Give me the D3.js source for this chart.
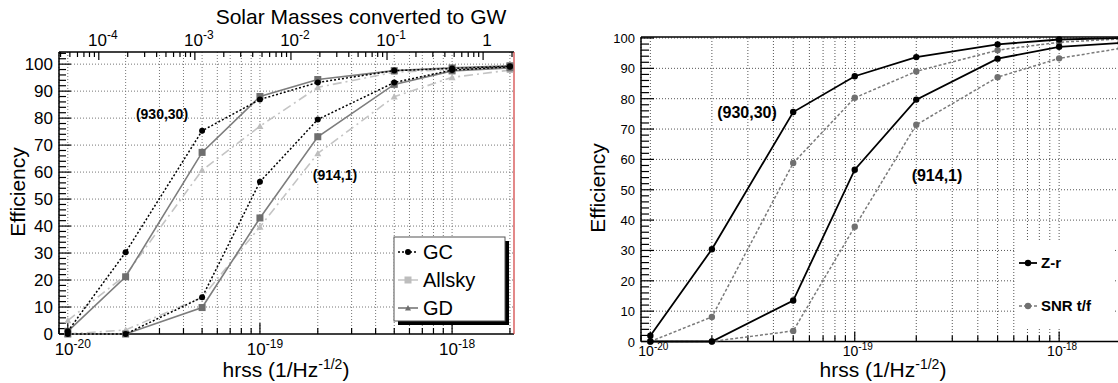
<!DOCTYPE html>
<html>
<head>
<meta charset="utf-8">
<script src="https://d3js.org/d3.v7.min.js"></script>
<style>
  body { margin: 0; background: white; }
  svg { display: block; font-family: "Liberation Sans", Arial, sans-serif; }
  .grid { stroke: #777; stroke-dasharray: 1,2; fill: none; }
  .gridR { stroke: #555; stroke-dasharray: 1,2; fill: none; }
  .axis { stroke: black; stroke-width: 1.5; fill: none; }
  .note { font-weight: bold; }
</style>
</head>
<body>
<svg id="chart" width="1118" height="383"></svg>
<script>
// hrss values of the injections
const hrss = [1e-20, 2e-20, 5e-20, 1e-19, 2e-19, 5e-19, 1e-18, 2e-18];

// left panel: (930,30) curves then (914,1) curves
const gc930 = [1, 30.3, 75.3, 86.9, 93.2, 97.6, 98.4, 99.2];
const gc914 = [0, 0, 13.6, 56.4, 79.5, 93.2, 97.8, 99.0];
const allsky930 = [1, 21.2, 67.3, 88, 94.3, 97.6, 98.6, 99.4];
const allsky914 = [0, 0, 9.8, 43, 73.1, 92.5, 97.5, 98.6];
const gd930 = [5, 21.8, 60.7, 77, 91.4, 97, 98, 98.7];
const gd914 = [0, 1.5, 13.6, 39.7, 66.9, 87.9, 95.1, 97.8];

// right panel
const zr930 = [1.9, 30.4, 75.6, 87.4, 93.7, 97.9, 99.5, 100];
const zr914 = [0, 0, 13.5, 56.6, 79.7, 93.2, 97.1, 98.4];
const snr930 = [0, 8.1, 58.8, 80.3, 89, 96, 98.6, 99.7];
const snr914 = [0, 0, 3.5, 37.8, 71.4, 87.1, 93.3, 96.6];

const yMajor = [0, 10, 20, 30, 40, 50, 60, 70, 80, 90, 100];
const hOneSolarMass = 1.45e-18; // hrss where 1 solar mass goes to GW

const svg = d3.select("#chart");

function isDecade(v) {
  const l = Math.log10(v);
  return Math.abs(l - Math.round(l)) < 1e-6;
}

// "10^-n" style label
function powLabel(sel, v, x, y, size, supSize) {
  const t = sel.append("text").attr("x", x).attr("y", y)
      .attr("text-anchor", "middle").attr("font-size", size);
  const e = Math.round(Math.log10(v));
  if (e === 0) { t.text("1"); return; }
  t.append("tspan").text("10");
  t.append("tspan").attr("dy", -size * 0.42).attr("font-size", supSize).text(e);
}

function series(g, x, y, vals, o) {
  const line = d3.line().x((d, i) => x(hrss[i])).y(d => y(d));
  g.append("path").datum(vals).attr("d", line)
      .attr("fill", "none").attr("stroke", o.stroke)
      .attr("stroke-width", o.width).attr("stroke-dasharray", o.dash);
  marker(g, vals.map((d, i) => [x(hrss[i]), y(d)]), o);
}

function marker(g, pts, o) {
  pts.forEach(p => {
    if (o.shape === "circle") {
      g.append("circle").attr("cx", p[0]).attr("cy", p[1]).attr("r", o.size).attr("fill", o.fill);
    } else if (o.shape === "square") {
      g.append("rect").attr("x", p[0] - o.size).attr("y", p[1] - o.size)
          .attr("width", o.size * 2).attr("height", o.size * 2).attr("fill", o.fill);
    } else {
      const s = o.size;
      g.append("path").attr("d", `M${p[0]},${p[1] - s}L${p[0] + s},${p[1] + s * 0.8}L${p[0] - s},${p[1] + s * 0.8}Z`)
          .attr("fill", o.fill);
    }
  });
}

// ---------------- left panel ----------------
const xL = d3.scaleLog().domain([0.9e-20, 2.1e-18]).range([59, 514]);
const yL = d3.scaleLinear().domain([0, 104.5]).range([334, 52]);
const topL = d3.scaleLog()
    .domain([Math.pow(0.9e-20 / hOneSolarMass, 2), Math.pow(2.1e-18 / hOneSolarMass, 2)])
    .range([59, 514]);

const left = svg.append("g");

xL.ticks().forEach(v => {
  left.append("line").attr("class", "grid")
      .attr("x1", xL(v)).attr("x2", xL(v)).attr("y1", 52).attr("y2", 334);
});
yMajor.slice(1).forEach(v => {
  left.append("line").attr("class", "grid")
      .attr("x1", 59).attr("x2", 514).attr("y1", yL(v)).attr("y2", yL(v));
});

// frame
left.append("line").attr("class", "axis").attr("x1", 59).attr("x2", 59).attr("y1", 52).attr("y2", 334);
left.append("line").attr("class", "axis").attr("x1", 59).attr("x2", 514).attr("y1", 334).attr("y2", 334);
left.append("line").attr("class", "axis").attr("x1", 59).attr("x2", 514).attr("y1", 52).attr("y2", 52);
left.append("line").attr("x1", 514).attr("x2", 514).attr("y1", 52).attr("y2", 334)
    .attr("stroke", "#d03a3a").attr("stroke-width", 1.2);

// y ticks
for (let v = 0; v <= 104; v += 2) {
  const big = v % 10 === 0;
  left.append("line").attr("stroke", "black").attr("stroke-width", 1.2)
      .attr("x1", 59).attr("x2", 59 + (big ? 12 : 7)).attr("y1", yL(v)).attr("y2", yL(v));
}
yMajor.forEach(v => {
  left.append("text").attr("x", 53).attr("y", yL(v) + 6).attr("text-anchor", "end")
      .attr("font-size", 17).text(v);
});

// bottom ticks
xL.ticks().forEach(v => {
  const big = isDecade(v);
  left.append("line").attr("stroke", "black").attr("stroke-width", 1.2)
      .attr("x1", xL(v)).attr("x2", xL(v)).attr("y1", 334).attr("y2", 334 - (big ? 11 : 6));
  if (big) powLabel(left, v, xL(v) + 5, 355, 17, 12);
});

// top axis (solar masses)
topL.ticks().forEach(v => {
  const big = isDecade(v);
  left.append("line").attr("stroke", "black").attr("stroke-width", 1.2)
      .attr("x1", topL(v)).attr("x2", topL(v)).attr("y1", 52).attr("y2", 52 + (big ? 8 : 5));
  if (big) powLabel(left, v, topL(v) + 4, 46, 17, 12);
});

left.append("text").attr("x", 361).attr("y", 24).attr("text-anchor", "middle")
    .attr("font-size", 21).text("Solar Masses converted to GW");
left.append("text").attr("transform", "translate(25,192) rotate(-90)")
    .attr("text-anchor", "middle").attr("font-size", 21).text("Efficiency");
const xtL = left.append("text").attr("x", 286).attr("y", 377).attr("text-anchor", "middle").attr("font-size", 21);
xtL.append("tspan").text("hrss (1/Hz");
xtL.append("tspan").attr("dy", -8).attr("font-size", 14).text("-1/2");
xtL.append("tspan").attr("dy", 8).text(")");

const gdStyle = { stroke: "#c4c4c4", width: 1.6, dash: "9,4,2,4", shape: "tri", size: 3.5, fill: "#bdbdbd" };
const allStyle = { stroke: "#7d7d7d", width: 1.6, dash: null, shape: "square", size: 3.5, fill: "#6e6e6e" };
const gcStyle = { stroke: "black", width: 1.5, dash: "2,2", shape: "circle", size: 3, fill: "black" };

series(left, xL, yL, gd930, gdStyle);
series(left, xL, yL, gd914, gdStyle);
series(left, xL, yL, allsky930, allStyle);
series(left, xL, yL, allsky914, allStyle);
series(left, xL, yL, gc930, gcStyle);
series(left, xL, yL, gc914, gcStyle);

left.append("text").attr("class", "note").attr("x", 162).attr("y", 119)
    .attr("text-anchor", "middle").attr("font-size", 14).text("(930,30)");
left.append("text").attr("class", "note").attr("x", 335).attr("y", 180)
    .attr("text-anchor", "middle").attr("font-size", 14).text("(914,1)");

// legend
const legL = [
  { name: "GC", stroke: "black", dash: "2,2", shape: "circle", size: 3, fill: "black" },
  { name: "Allsky", stroke: "#c4c4c4", dash: null, shape: "square", size: 3.5, fill: "#bdbdbd" },
  { name: "GD", stroke: "#6e6e6e", dash: null, shape: "tri", size: 3, fill: "#6e6e6e" }
];
left.append("rect").attr("x", 398).attr("y", 241).attr("width", 111).attr("height", 84).attr("fill", "black");
left.append("rect").attr("x", 394).attr("y", 237).attr("width", 111).attr("height", 84)
    .attr("fill", "white").attr("stroke", "#555").attr("stroke-width", 1);
legL.forEach((d, i) => {
  const y = 252 + i * 28;
  left.append("line").attr("x1", 398).attr("x2", 418).attr("y1", y).attr("y2", y)
      .attr("stroke", d.stroke).attr("stroke-width", 1.5).attr("stroke-dasharray", d.dash);
  marker(left, [[408, y]], d);
  left.append("text").attr("x", 423).attr("y", y + 7).attr("font-size", 20).text(d.name);
});

// ---------------- right panel ----------------
const xR = d3.scaleLog().domain([0.9e-20, 2.1e-18]).range([641, 1125]);
const yR = d3.scaleLinear().domain([0, 100]).range([341.5, 38]);

const right = svg.append("g");

xR.ticks().forEach(v => {
  right.append("line").attr("class", "gridR")
      .attr("x1", xR(v)).attr("x2", xR(v)).attr("y1", 38).attr("y2", 341.5);
});
yMajor.slice(1).forEach(v => {
  right.append("line").attr("class", "gridR")
      .attr("x1", 641).attr("x2", 1125).attr("y1", yR(v)).attr("y2", yR(v));
});

right.append("line").attr("class", "axis").attr("x1", 641).attr("x2", 641).attr("y1", 37).attr("y2", 341.5);
right.append("line").attr("class", "axis").attr("x1", 641).attr("x2", 1125).attr("y1", 341.5).attr("y2", 341.5);
right.append("line").attr("class", "axis").attr("x1", 641).attr("x2", 1125).attr("y1", 37).attr("y2", 37);

for (let v = 0; v <= 100; v += 2) {
  const big = v % 10 === 0;
  right.append("line").attr("stroke", "black").attr("stroke-width", 1.2)
      .attr("x1", 641).attr("x2", 641 + (big ? 13 : 8)).attr("y1", yR(v)).attr("y2", yR(v));
}
yMajor.forEach(v => {
  right.append("text").attr("x", 635).attr("y", yR(v) + 5).attr("text-anchor", "end")
      .attr("font-size", 13).text(v);
});
xR.ticks().forEach(v => {
  const big = isDecade(v);
  right.append("line").attr("stroke", "black").attr("stroke-width", 1.2)
      .attr("x1", xR(v)).attr("x2", xR(v)).attr("y1", 341.5).attr("y2", 341.5 - (big ? 10 : 6));
  if (big) powLabel(right, v, xR(v) + 3, 356, 14, 10);
});

right.append("text").attr("transform", "translate(605,188) rotate(-90)")
    .attr("text-anchor", "middle").attr("font-size", 21).text("Efficiency");
const xtR = right.append("text").attr("x", 883).attr("y", 377).attr("text-anchor", "middle").attr("font-size", 21);
xtR.append("tspan").text("hrss (1/Hz");
xtR.append("tspan").attr("dy", -8).attr("font-size", 14).text("-1/2");
xtR.append("tspan").attr("dy", 8).text(")");

const snrStyle = { stroke: "#7a7a7a", width: 1.5, dash: "3,2", shape: "circle", size: 3.2, fill: "#707070" };
const zrStyle = { stroke: "black", width: 1.8, dash: null, shape: "circle", size: 3.2, fill: "black" };
series(right, xR, yR, snr930, snrStyle);
series(right, xR, yR, snr914, snrStyle);
series(right, xR, yR, zr930, zrStyle);
series(right, xR, yR, zr914, zrStyle);

right.append("text").attr("class", "note").attr("x", 747).attr("y", 118)
    .attr("text-anchor", "middle").attr("font-size", 16).text("(930,30)");
right.append("text").attr("class", "note").attr("x", 937).attr("y", 181)
    .attr("text-anchor", "middle").attr("font-size", 16).text("(914,1)");

const legR = [
  { name: "Z-r", style: zrStyle, y: 263 },
  { name: "SNR t/f", style: snrStyle, y: 306 }
];
right.append("rect").attr("x", 1015).attr("y", 242).attr("width", 98).attr("height", 85).attr("fill", "white");
legR.forEach(d => {
  right.append("line").attr("x1", 1019).attr("x2", 1037).attr("y1", d.y).attr("y2", d.y)
      .attr("stroke", d.style.stroke).attr("stroke-width", d.style.width)
      .attr("stroke-dasharray", d.style.dash);
  marker(right, [[1028, d.y]], d.style);
  right.append("text").attr("class", "note").attr("x", 1041).attr("y", d.y + 5)
      .attr("font-size", 15).text(d.name);
});
</script>
</body>
</html>
